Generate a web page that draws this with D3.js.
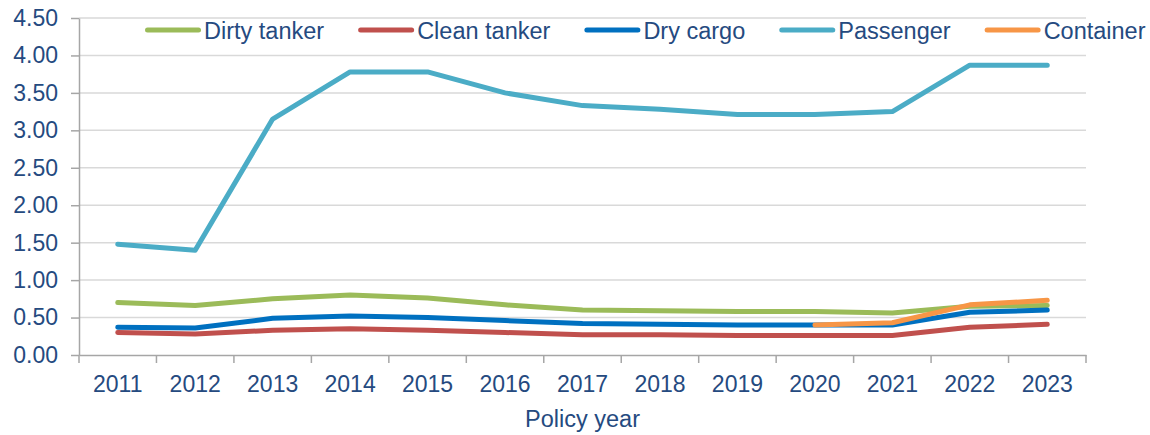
<!DOCTYPE html>
<html>
<head>
<meta charset="utf-8">
<script src="https://cdn.jsdelivr.net/npm/d3@7"></script>
<style>
  body { margin: 0; background: #fff; }
  text { font-family: "Liberation Sans", Arial, sans-serif; fill: #254a80; }
</style>
</head>
<body>
<div id="canvas"></div>
<script>
// data
var years = ['2011','2012','2013','2014','2015','2016','2017','2018','2019','2020','2021','2022','2023'];
var dirtyTanker = [0.70, 0.66, 0.75, 0.80, 0.76, 0.67, 0.60, 0.59, 0.58, 0.58, 0.56, 0.65, 0.66];
var cleanTanker = [0.30, 0.28, 0.33, 0.35, 0.33, 0.30, 0.27, 0.27, 0.26, 0.26, 0.26, 0.37, 0.41];
var dryCargo    = [0.37, 0.36, 0.49, 0.52, 0.50, 0.46, 0.42, 0.41, 0.40, 0.40, 0.40, 0.57, 0.60];
var passenger   = [1.48, 1.40, 3.15, 3.78, 3.78, 3.50, 3.33, 3.28, 3.21, 3.21, 3.25, 3.87, 3.87];
var container   = [null, null, null, null, null, null, null, null, null, 0.40, 0.43, 0.67, 0.73];
var yTicks = [0, 0.5, 1, 1.5, 2, 2.5, 3, 3.5, 4, 4.5];

var series = [
  {name: 'Dirty tanker', values: dirtyTanker, color: '#9bbb59'},
  {name: 'Clean tanker', values: cleanTanker, color: '#c0504d'},
  {name: 'Dry cargo',    values: dryCargo,    color: '#0070c0'},
  {name: 'Passenger',    values: passenger,   color: '#4bacc6'},
  {name: 'Container',    values: container,   color: '#f79646'}
];

var W = 1150, H = 435;
var m = {t:18, r:64, b:80, l:79};
var w = W - m.l - m.r,
    h = H - m.t - m.b;

var svg = d3.select('#canvas')
  .append('svg')
  .attr('width', W)
  .attr('height', H);

var plot = svg.append('g')
  .attr('transform', 'translate(' + m.l + ',' + m.t + ')');

var scaleX = d3.scaleBand()
  .domain(years)
  .range([0, w])
  .padding(0);

var scaleY = d3.scaleLinear()
  .domain([0, 4.5])
  .range([h, 0]);

// gridlines
plot.selectAll('.grid')
  .data(yTicks.filter(function(d){ return d > 0; }))
  .enter()
  .append('line')
  .attr('x1', 0)
  .attr('x2', w)
  .attr('y1', function(d){ return scaleY(d); })
  .attr('y2', function(d){ return scaleY(d); })
  .attr('stroke', '#d9d9d9')
  .attr('stroke-width', 1.5);

// y axis
var axisY = d3.axisLeft(scaleY)
  .tickValues(yTicks)
  .tickFormat(d3.format('.2f'))
  .tickSize(8)
  .tickPadding(13)
  .tickSizeOuter(0);

var gy = plot.append('g').call(axisY);
gy.select('.domain').attr('stroke', '#a6a6a6').attr('stroke-width', 1.5);
gy.selectAll('.tick line').attr('stroke', '#a6a6a6').attr('stroke-width', 1.5);
gy.selectAll('.tick text')
  .style('font-size', '23px')
  .attr('fill', '#254a80');

// x axis: labels at band centres, ticks on band edges
var axisX = d3.axisBottom(scaleX)
  .tickSize(0)
  .tickPadding(21)
  .tickSizeOuter(0);

var gx = plot.append('g')
  .attr('transform', 'translate(0,' + h + ')')
  .call(axisX);
gx.select('.domain').attr('stroke', '#a6a6a6').attr('stroke-width', 1.5);
gx.selectAll('.tick text')
  .style('font-size', '23px')
  .attr('fill', '#254a80');

gx.selectAll('.edge')
  .data(years.concat(['end']))
  .enter()
  .append('line')
  .attr('x1', function(d){ return d === 'end' ? w : scaleX(d); })
  .attr('x2', function(d){ return d === 'end' ? w : scaleX(d); })
  .attr('y1', 0)
  .attr('y2', 8)
  .attr('stroke', '#a6a6a6')
  .attr('stroke-width', 1.5);

// axis title
plot.append('text')
  .attr('x', w / 2)
  .attr('y', h + 72)
  .attr('text-anchor', 'middle')
  .style('font-size', '23.5px')
  .text('Policy year');

// lines
var line = d3.line()
  .defined(function(d){ return d.v !== null; })
  .x(function(d){ return scaleX(d.year) + scaleX.bandwidth() / 2; })
  .y(function(d){ return scaleY(d.v); });

plot.selectAll('.series')
  .data(series)
  .enter()
  .append('path')
  .attr('fill', 'none')
  .attr('stroke', function(d){ return d.color; })
  .attr('stroke-width', 5)
  .attr('stroke-linecap', 'round')
  .attr('stroke-linejoin', 'round')
  .attr('d', function(d){
    return line(d.values.map(function(v, i){ return {year: years[i], v: v}; }));
  });

// legend
var legend = svg.append('g').attr('transform', 'translate(145,30)');
var lx = 0;
series.forEach(function(s){
  var item = legend.append('g').attr('transform', 'translate(' + lx + ',0)');
  item.append('line')
    .attr('x1', 2.5).attr('x2', 53.5)
    .attr('y1', 0).attr('y2', 0)
    .attr('stroke', s.color)
    .attr('stroke-width', 5)
    .attr('stroke-linecap', 'round');
  var t = item.append('text')
    .attr('x', 59)
    .attr('y', 8.5)
    .style('font-size', '23.5px')
    .text(s.name);
  lx += 59 + t.node().getComputedTextLength() + 34;
});
</script>
</body>
</html>
